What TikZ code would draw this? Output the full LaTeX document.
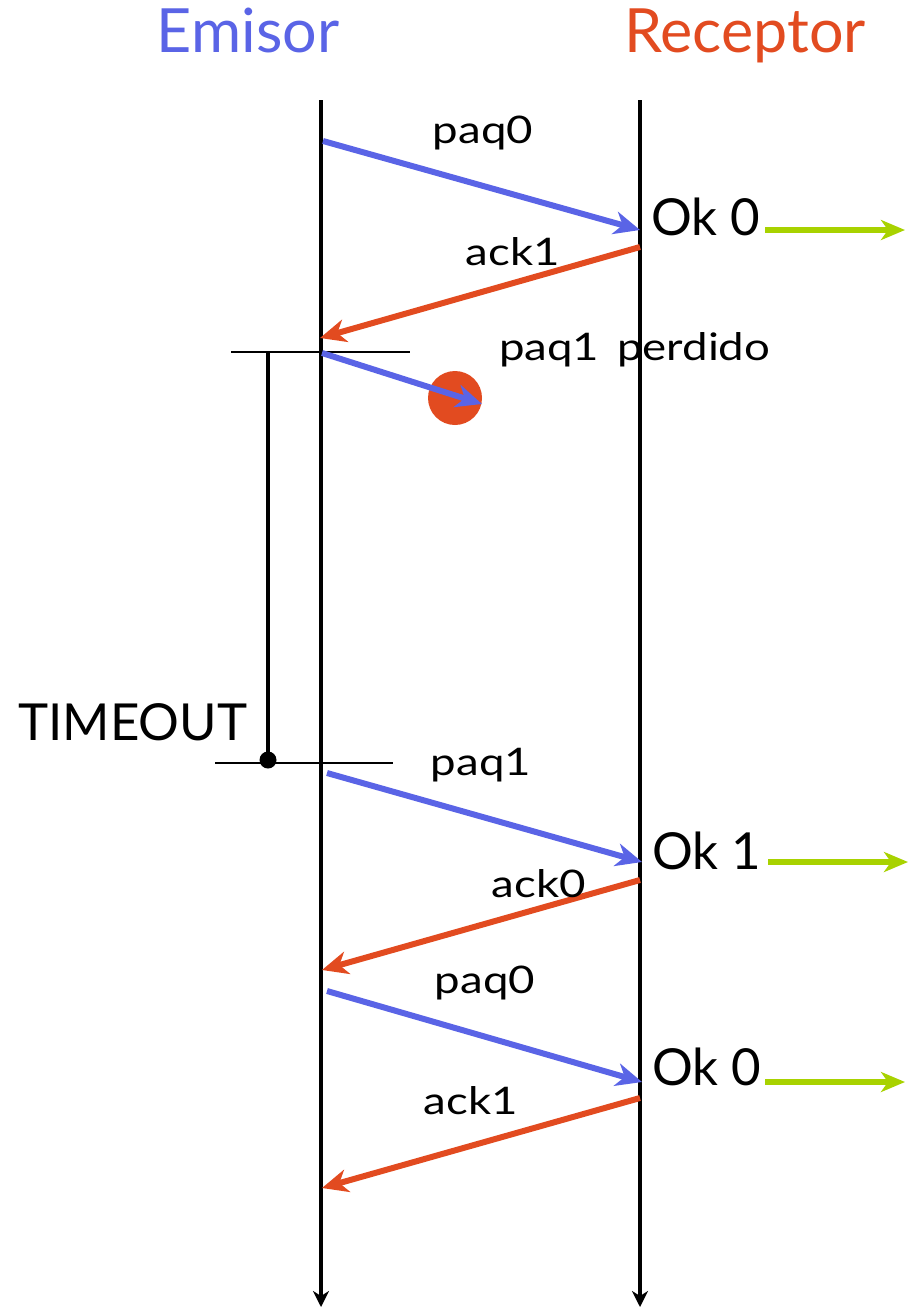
\documentclass[tikz,border=0pt]{standalone}
\usepackage{fontspec}
\setmainfont{Lato}
\newfontfamily\lblfont{Lato}[FakeStretch=1.2]
\usetikzlibrary{arrows.meta}
\definecolor{cblue}{RGB}{90,100,230}
\definecolor{cred}{RGB}{226,75,32}
\definecolor{cgreen}{RGB}{168,210,0}
\tikzset{
  life/.style={line width=4pt,-{Stealth[length=16pt,width=16pt,inset=5pt]}},
  msgb/.style={cblue,line width=6pt,-{Stealth[length=26pt,width=23pt,inset=8pt]}},
  msgr/.style={cred,line width=6pt,-{Stealth[length=26pt,width=23pt,inset=8pt]}},
  deliver/.style={cgreen,line width=6pt,-{Stealth[length=24pt,width=20pt,inset=7pt]}},
  lbl/.style={font=\lblfont\fontsize{38}{42}\selectfont,inner sep=0pt},
  big/.style={font=\fontsize{51}{55}\selectfont,inner sep=0pt},
  ttl/.style={font=\fontsize{61}{65}\selectfont,inner sep=0pt},
  tick/.style={black,line width=2pt}
}
\begin{document}
\begin{tikzpicture}[x=1pt,y=-1pt]
\useasboundingbox (0,0) rectangle (915,1309);
% titles
\node[ttl,text=cblue,anchor=base] (emisor) at (248,52) {Emisor};
\node[ttl,text=cred,anchor=base] (receptor) at (745,52) {Receptor};
% lifelines
\coordinate (eTop) at (321,100);
\coordinate (eBot) at (321,1307);
\coordinate (rTop) at (640,100);
\coordinate (rBot) at (640,1307);
\draw[life] (eTop) -- (eBot);
\draw[life] (rTop) -- (rBot);
% paq0
\coordinate (s1) at (323,141);
\coordinate (r1) at (640,230);
\draw[msgb] (s1) -- (r1);
\node[lbl,anchor=base] (l1) at (483,143) {paq0};
\node[big,anchor=base west] (ok1) at (651,235) {Ok 0};
\coordinate (g1a) at (765,230);
\coordinate (g1b) at (905,230);
\draw[deliver] (g1a) -- (g1b);
% ack1
\coordinate (r2) at (640,247);
\coordinate (s2) at (320,338);
\draw[msgr] (r2) -- (s2);
\node[lbl,anchor=base] (l2) at (513,265) {ack1};
% lost packet
\coordinate (h1a) at (231,352);
\coordinate (h1b) at (410,352);
\draw[tick] (h1a) -- (h1b);
\node[circle,fill=cred,minimum size=54pt,inner sep=0pt] (lost) at (455,398) {};
\coordinate (s3) at (322,353);
\coordinate (x3) at (482,404);
\draw[msgb] (s3) -- (x3);
\node[lbl,anchor=base west] (l3) at (499,360) {paq1\kern6pt{} perdido\kern-2pt{}};
% timeout
\coordinate (t1) at (268,352);
\node[circle,fill=black,minimum size=17pt,inner sep=0pt] (tdot) at (268,760) {};
\draw[black,line width=4pt] (t1) -- (tdot.center);
\coordinate (h2a) at (215,763);
\coordinate (h2b) at (393,763);
\draw[tick] (h2a) -- (h2b);
\node[big,anchor=base west] (tout) at (18,740) {TIMEOUT};
% paq1 retransmitted
\coordinate (s4) at (327,773);
\coordinate (r4) at (642,862);
\draw[msgb] (s4) -- (r4);
\node[lbl,anchor=base] (l4) at (481,775) {paq1};
\node[big,anchor=base west] (ok2) at (652,869) {Ok 1};
\coordinate (g2a) at (768,862);
\coordinate (g2b) at (908,862);
\draw[deliver] (g2a) -- (g2b);
% ack0
\coordinate (r5) at (640,880);
\coordinate (s5) at (322,970);
\draw[msgr] (r5) -- (s5);
\node[lbl,anchor=base] (l5) at (539,897) {ack0};
% paq0
\coordinate (s6) at (327,991);
\coordinate (r6) at (642,1082);
\draw[msgb] (s6) -- (r6);
\node[lbl,anchor=base] (l6) at (485,993) {paq0};
\node[big,anchor=base west] (ok3) at (652,1085) {Ok 0};
\coordinate (g3a) at (765,1082);
\coordinate (g3b) at (905,1082);
\draw[deliver] (g3a) -- (g3b);
% ack1
\coordinate (r7) at (640,1098);
\coordinate (s7) at (322,1188);
\draw[msgr] (r7) -- (s7);
\node[lbl,anchor=base] (l7) at (471,1114) {ack1};
\end{tikzpicture}
\end{document}
